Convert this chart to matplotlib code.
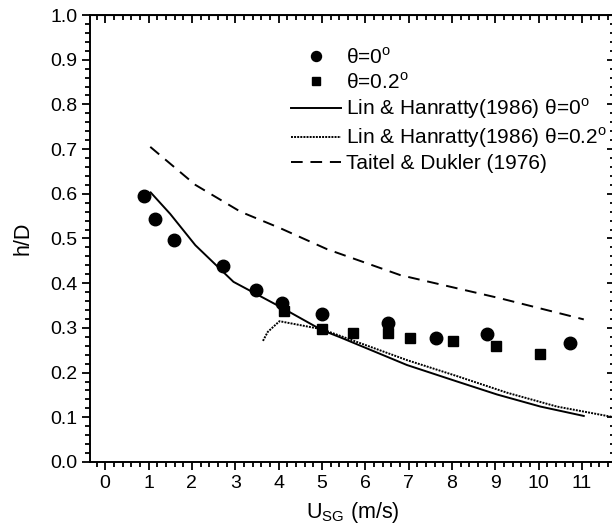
import numpy as np
import matplotlib
matplotlib.use('Agg')
import matplotlib.pyplot as plt
from matplotlib.ticker import MultipleLocator

plt.rcParams['font.family'] = ['Liberation Sans', 'DejaVu Sans']
plt.rcParams['mathtext.fontset'] = 'custom'
plt.rcParams['mathtext.rm'] = 'Liberation Sans'

# measured data, theta = 0 deg
u_circ = [0.90, 1.15, 1.59, 2.72, 3.48, 4.09, 5.01, 6.52, 7.64, 8.81, 10.73]
h_circ = [0.595, 0.544, 0.497, 0.439, 0.384, 0.356, 0.330, 0.312, 0.277, 0.286, 0.267]

# measured data, theta = 0.2 deg
u_sq = [4.12, 5.01, 5.71, 6.52, 7.02, 8.02, 9.02, 10.02]
h_sq = [0.338, 0.297, 0.288, 0.289, 0.278, 0.271, 0.260, 0.241]

# Lin & Hanratty (1986), theta = 0
u_lh0 = [1.05, 1.5, 2.08, 2.96, 4.04, 5.0, 5.42, 6.96, 8.12, 9.04, 10.04, 11.04]
h_lh0 = [0.603, 0.555, 0.485, 0.403, 0.347, 0.295, 0.279, 0.217, 0.180, 0.151, 0.124, 0.103]

# Lin & Hanratty (1986), theta = 0.2
u_lh2 = [3.64, 3.75, 4.02, 5.0, 6.96, 8.12, 9.27, 10.42, 11.69]
h_lh2 = [0.271, 0.291, 0.315, 0.297, 0.228, 0.192, 0.155, 0.124, 0.101]

# Taitel & Dukler (1976)
u_td = [1.04, 2.08, 3.12, 4.04, 5.12, 6.81, 9.12, 11.04]
h_td = [0.705, 0.620, 0.560, 0.523, 0.476, 0.418, 0.366, 0.319]

fig = plt.figure(figsize=(6.12, 5.32), dpi=100)
ax = fig.add_axes([90 / 612, 1 - 462 / 532, 525 / 612, 447 / 532])

deg = r'$^{\mathrm{o}}$'
ax.plot(u_circ, h_circ, 'o', color='black', ms=9, label='θ=0' + deg)
ax.plot(u_sq, h_sq, 's', color='black', ms=7.5, label='θ=0.2' + deg)
ax.plot(u_lh0, h_lh0, '-', color='black', lw=1.4,
        label='Lin & Hanratty(1986) θ=0' + deg)
ax.plot(u_lh2, h_lh2, color='black', lw=1.4, linestyle=(0, (1, 0.6)),
        label='Lin & Hanratty(1986) θ=0.2' + deg)
ax.plot(u_td, h_td, color='black', lw=1.4, linestyle=(0, (6, 4)),
        label='Taitel & Dukler (1976)')

ax.set_xlim(-0.35, 11.76)
ax.set_ylim(0, 1.0)
ax.xaxis.set_major_locator(MultipleLocator(1))
ax.xaxis.set_minor_locator(MultipleLocator(0.2))
ax.yaxis.set_major_locator(MultipleLocator(0.1))
ax.yaxis.set_minor_locator(MultipleLocator(0.02))
ax.yaxis.set_major_formatter(matplotlib.ticker.FormatStrFormatter('%.1f'))

ax.tick_params(which='both', direction='out', top=False, right=False,
               labelsize=14, width=1.3, colors='black')
ax.tick_params(which='major', length=6, pad=3)
ax.tick_params(which='minor', length=3.5)
for sp in ax.spines.values():
    sp.set_linewidth(1.4)

# inward ticks on top and right
sec_x = ax.secondary_xaxis('top')
sec_x.xaxis.set_major_locator(MultipleLocator(1))
sec_x.xaxis.set_minor_locator(MultipleLocator(0.2))
sec_x.tick_params(which='both', direction='in', labeltop=False, width=1.3)
sec_x.tick_params(which='major', length=6)
sec_x.tick_params(which='minor', length=3.5)
sec_y = ax.secondary_yaxis('right')
sec_y.yaxis.set_major_locator(MultipleLocator(0.1))
sec_y.yaxis.set_minor_locator(MultipleLocator(0.02))
sec_y.tick_params(which='both', direction='in', labelright=False, width=1.3)
sec_y.tick_params(which='major', length=6)
sec_y.tick_params(which='minor', length=3.5)

ax.set_xlabel(r'U$_{\mathrm{SG}}$ (m/s)', fontsize=15.5, labelpad=6)
ax.set_ylabel('h/D', fontsize=15.5, labelpad=12)

leg = ax.legend(loc='upper left', bbox_to_anchor=(291 / 612, 1 - 47 / 532),
                bbox_transform=fig.transFigure, frameon=False, fontsize=15,
                handlelength=2.4, handletextpad=0.25, labelspacing=0.2,
                borderaxespad=0, borderpad=0, markerscale=0.8)

fig.savefig('out.png', dpi=100)
